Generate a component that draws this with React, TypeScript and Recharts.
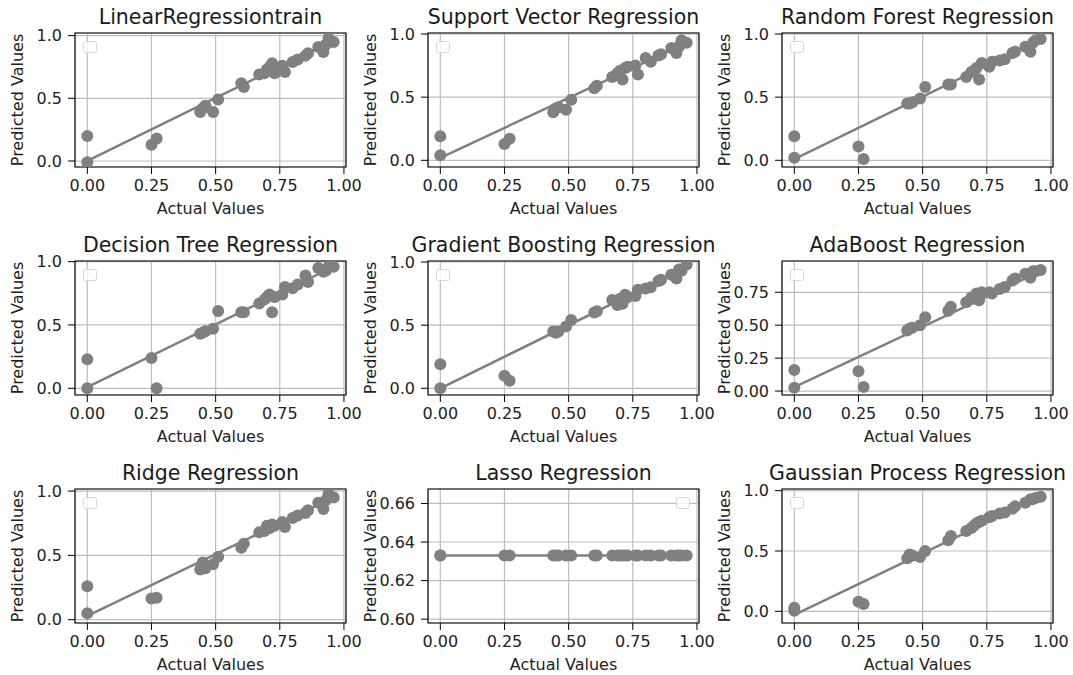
import { ScatterChart, Scatter, XAxis, YAxis, CartesianGrid, ReferenceArea, Label } from 'recharts'

// y_test, shared by every panel
const ACTUAL = [0, 0, 0.25, 0.27, 0.44, 0.45, 0.46, 0.49, 0.51, 0.6, 0.61, 0.67, 0.69, 0.7, 0.71, 0.72, 0.73, 0.76, 0.77, 0.8, 0.82, 0.85, 0.86, 0.9, 0.92, 0.93, 0.94, 0.96]

const LINEAR_PRED = [0.2, -0.01, 0.13, 0.18, 0.39, 0.42, 0.44, 0.39, 0.49, 0.62, 0.59, 0.69, 0.7, 0.73, 0.75, 0.78, 0.7, 0.76, 0.71, 0.79, 0.81, 0.84, 0.86, 0.91, 0.87, 0.93, 0.98, 0.95]
const SVR_PRED = [0.19, 0.04, 0.13, 0.17, 0.38, 0.41, 0.42, 0.4, 0.48, 0.57, 0.59, 0.66, 0.69, 0.71, 0.64, 0.73, 0.74, 0.75, 0.68, 0.81, 0.78, 0.83, 0.84, 0.89, 0.85, 0.9, 0.95, 0.93]
const RF_PRED = [0.19, 0.02, 0.11, 0.01, 0.45, 0.45, 0.46, 0.49, 0.58, 0.6, 0.6, 0.66, 0.7, 0.71, 0.73, 0.64, 0.77, 0.74, 0.78, 0.79, 0.8, 0.85, 0.86, 0.9, 0.86, 0.93, 0.95, 0.96]
const DT_PRED = [0.23, 0.0, 0.24, 0.0, 0.43, 0.44, 0.45, 0.47, 0.61, 0.6, 0.6, 0.67, 0.7, 0.72, 0.74, 0.6, 0.72, 0.74, 0.8, 0.79, 0.82, 0.89, 0.84, 0.95, 0.92, 0.93, 0.96, 0.96]
const GB_PRED = [0.19, 0.0, 0.1, 0.06, 0.45, 0.44, 0.45, 0.49, 0.54, 0.6, 0.61, 0.7, 0.66, 0.71, 0.67, 0.74, 0.72, 0.73, 0.78, 0.79, 0.8, 0.85, 0.86, 0.9, 0.87, 0.94, 0.93, 0.98]
const ADA_PRED = [0.16, 0.025, 0.15, 0.03, 0.46, 0.475, 0.48, 0.5, 0.56, 0.61, 0.64, 0.675, 0.71, 0.7, 0.74, 0.69, 0.75, 0.75, 0.74, 0.775, 0.79, 0.84, 0.855, 0.89, 0.86, 0.91, 0.91, 0.92]
const RIDGE_PRED = [0.26, 0.05, 0.165, 0.17, 0.39, 0.445, 0.4, 0.43, 0.49, 0.56, 0.59, 0.68, 0.69, 0.73, 0.71, 0.74, 0.73, 0.76, 0.72, 0.79, 0.81, 0.83, 0.85, 0.91, 0.86, 0.93, 0.98, 0.95]
const LASSO_PRED = [0.633, 0.633, 0.633, 0.633, 0.633, 0.633, 0.633, 0.633, 0.633, 0.633, 0.633, 0.633, 0.633, 0.633, 0.633, 0.633, 0.633, 0.633, 0.633, 0.633, 0.633, 0.633, 0.633, 0.633, 0.633, 0.633, 0.633, 0.633]
const GP_PRED = [0.03, 0.005, 0.08, 0.06, 0.44, 0.47, 0.46, 0.45, 0.5, 0.59, 0.625, 0.665, 0.69, 0.71, 0.73, 0.74, 0.75, 0.78, 0.79, 0.81, 0.82, 0.85, 0.87, 0.9, 0.93, 0.93, 0.94, 0.95]

// fitted line end points (x, y) at min and max actual
const LINEAR_FIT = [[0, 0.0], [0.96, 0.965]]
const SVR_FIT = [[0, 0.02], [0.96, 0.93]]
const RF_FIT = [[0, 0.01], [0.96, 0.96]]
const DT_FIT = [[0, 0.01], [0.96, 0.96]]
const GB_FIT = [[0, 0.0], [0.96, 0.96]]
const ADA_FIT = [[0, 0.03], [0.96, 0.91]]
const RIDGE_FIT = [[0, 0.03], [0.96, 0.95]]
const LASSO_FIT = [[0, 0.633], [0.96, 0.633]]
const GP_FIT = [[0, -0.03], [0.96, 0.95]]

const X_TICKS = [0, 0.25, 0.5, 0.75, 1.0]
const UNIT_TICKS = [0, 0.5, 1.0]
const ADA_TICKS = [0, 0.25, 0.5, 0.75]
const LASSO_TICKS = [0.6, 0.62, 0.64, 0.66]

const PANELS = [
  { title: 'LinearRegressiontrain', pred: LINEAR_PRED, fit: LINEAR_FIT, yDomain: [-0.048, 1.021], yTicks: UNIT_TICKS, digits: 1 },
  { title: 'Support Vector Regression', pred: SVR_PRED, fit: SVR_FIT, yDomain: [-0.053, 1.008], yTicks: UNIT_TICKS, digits: 1 },
  { title: 'Random Forest Regression', pred: RF_PRED, fit: RF_FIT, yDomain: [-0.053, 1.008], yTicks: UNIT_TICKS, digits: 1 },
  { title: 'Decision Tree Regression', pred: DT_PRED, fit: DT_FIT, yDomain: [-0.053, 1.005], yTicks: UNIT_TICKS, digits: 1 },
  { title: 'Gradient Boosting Regression', pred: GB_PRED, fit: GB_FIT, yDomain: [-0.053, 1.008], yTicks: UNIT_TICKS, digits: 1 },
  { title: 'AdaBoost Regression', pred: ADA_PRED, fit: ADA_FIT, yDomain: [-0.03, 0.9875], yTicks: ADA_TICKS, digits: 2 },
  { title: 'Ridge Regression', pred: RIDGE_PRED, fit: RIDGE_FIT, yDomain: [-0.026, 1.016], yTicks: UNIT_TICKS, digits: 1 },
  { title: 'Lasso Regression', pred: LASSO_PRED, fit: LASSO_FIT, yDomain: [0.598, 0.6675], yTicks: LASSO_TICKS, digits: 2, legendRight: true },
  { title: 'Gaussian Process Regression', pred: GP_PRED, fit: GP_FIT, yDomain: [-0.097, 1.014], yTicks: UNIT_TICKS, digits: 1 },
]

const FONT = '"DejaVu Sans", sans-serif'
const X_DOMAIN = [-0.048, 1.008]
const W = 372
const H = 225
const COL_LEFT = [0, 353, 707]
const ROW_TOP = [0, 228, 456]
const BOX = { left: 75, top: 33, width: 271, height: 134 }

const XLabel = ({ viewBox }: any) => (
  <text x={viewBox.x + viewBox.width / 2} y={viewBox.y + 47} textAnchor="middle" fontSize={16} fill="#222" fontFamily={FONT}>
    Actual Values
  </text>
)

const YLabel = ({ viewBox }: any) => {
  const cx = 17
  const cy = viewBox.y + viewBox.height / 2
  return (
    <text x={cx} y={cy} dy="0.36em" transform={`rotate(-90 ${cx} ${cy})`} textAnchor="middle" fontSize={16} fill="#222" fontFamily={FONT}>
      Predicted Values
    </text>
  )
}

function Panel({ p, i }: { p: any; i: number }) {
  const points = ACTUAL.map((x, k) => ({ x, y: p.pred[k] }))
  const line = p.fit.map(([x, y]: number[]) => ({ x, y }))
  return (
    <div style={{ position: 'absolute', left: COL_LEFT[i % 3], top: ROW_TOP[Math.floor(i / 3)], width: W, height: H, fontFamily: FONT }}>
      <div style={{ position: 'absolute', left: BOX.left - 100, width: BOX.width + 200, top: 6.5, textAlign: 'center', fontSize: 20.5, lineHeight: '20.5px', color: '#1a1a1a', whiteSpace: 'nowrap' }}>
        {p.title}
      </div>
      <ScatterChart width={W} height={H} margin={{ top: BOX.top, right: W - BOX.left - BOX.width, bottom: 0, left: 0 }}>
        <CartesianGrid stroke="#bdbdbd" strokeWidth={1.2} />
        <XAxis
          type="number"
          dataKey="x"
          domain={X_DOMAIN}
          ticks={X_TICKS}
          allowDataOverflow
          tickFormatter={(v) => v.toFixed(2)}
          height={H - BOX.top - BOX.height}
          tickSize={7}
          tickMargin={6}
          axisLine={false}
          tickLine={{ stroke: '#000' }}
          tick={{ fontSize: 16, fill: '#222', fontFamily: FONT }}
        >
          <Label content={XLabel} />
        </XAxis>
        <YAxis
          type="number"
          dataKey="y"
          domain={p.yDomain}
          ticks={p.yTicks}
          allowDataOverflow
          tickFormatter={(v) => v.toFixed(p.digits)}
          width={BOX.left}
          tickSize={7}
          tickMargin={6}
          axisLine={false}
          tickLine={{ stroke: '#000' }}
          tick={{ fontSize: 16, fill: '#222', fontFamily: FONT }}
        >
          <Label content={YLabel} />
        </YAxis>
        <Scatter
          data={points}
          fill="#808080"
          isAnimationActive={false}
          shape={(s: any) => <circle cx={s.cx} cy={s.cy} r={6} fill="#808080" />}
        />
        <Scatter
          data={line}
          isAnimationActive={false}
          line={{ stroke: '#808080', strokeWidth: 2.5 }}
          shape={() => <g />}
        />
        <ReferenceArea x1={X_DOMAIN[0]} x2={X_DOMAIN[1]} y1={p.yDomain[0]} y2={p.yDomain[1]} fill="none" stroke="#000" strokeWidth={1.1} ifOverflow="visible" />
      </ScatterChart>
      <div
        style={{
          position: 'absolute',
          top: BOX.top + 8,
          left: p.legendRight ? BOX.left + BOX.width - 9 - 14 : BOX.left + 8,
          width: 12,
          height: 10,
          border: '1px solid #d6d6d6',
          borderRadius: 2.5,
          background: 'rgba(255,255,255,0.8)',
        }}
      />
    </div>
  )
}

export default function App() {
  return (
    <div style={{ position: 'absolute', left: 0, top: 0, width: 1073, height: 675, background: '#fff', overflow: 'hidden' }}>
      {PANELS.map((p, i) => (
        <Panel key={p.title} p={p} i={i} />
      ))}
    </div>
  )
}
